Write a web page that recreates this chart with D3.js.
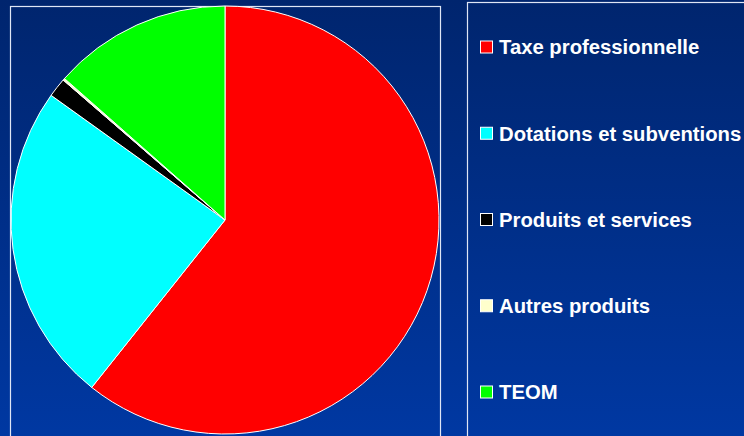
<!DOCTYPE html>
<html><head><meta charset="utf-8">
<script src="https://cdn.jsdelivr.net/npm/d3@7"></script>
<style>html,body{margin:0;padding:0;overflow:hidden;background:#002a80}</style>
</head><body>
<svg id="chart" width="744" height="436"></svg>
<script>
const categories = ["Taxe professionnelle","Dotations et subventions","Produits et services","Autres produits","TEOM"];
const values = [60.7, 24.2, 1.45, 0.15, 13.5];
const colors = ["#FF0000","#00FFFF","#000000","#FFFFCC","#00FF00"];

const svg = d3.select("#chart");
const W = 744, H = 436;
const defs = svg.append("defs");
const grad = defs.append("linearGradient").attr("id","bg").attr("x1",0).attr("y1",0).attr("x2",0).attr("y2",1);
grad.append("stop").attr("offset","0%").attr("stop-color","#00256e");
grad.append("stop").attr("offset","100%").attr("stop-color","#0038a2");
svg.append("rect").attr("width",W).attr("height",H).attr("fill","url(#bg)");

// plot area frame
svg.append("rect").attr("x",10.5).attr("y",6.5).attr("width",430).attr("height",440)
  .attr("fill","none").attr("stroke","#dfe6f5").attr("stroke-width",1.2);
// legend frame
svg.append("rect").attr("x",467.5).attr("y",2.5).attr("width",300).attr("height",450)
  .attr("fill","none").attr("stroke","#dfe6f5").attr("stroke-width",1.2);

const cx = 225, cy = 220, r = 214;
const pie = d3.pie().sort(null).value(d => d)(values);
const arc = d3.arc().innerRadius(0).outerRadius(r);
const g = svg.append("g").attr("transform",`translate(${cx},${cy})`);
g.selectAll("path").data(pie).join("path")
  .attr("d", arc)
  .attr("fill", (d,i) => colors[i])
  .attr("stroke", "#ffffff")
  .attr("stroke-width", 1)
  .attr("stroke-linejoin","round");

const ly = d3.scalePoint().domain(categories).range([47, 392]);
const lg = svg.append("g");
const items = lg.selectAll("g").data(categories).join("g")
  .attr("transform", d => `translate(480,${ly(d)})`);
items.append("rect").attr("x",0.5).attr("y",-6).attr("width",12).attr("height",12)
  .attr("fill",(d,i)=>colors[i]).attr("stroke","#ffffff").attr("stroke-width",1);
items.append("text").attr("x",19).attr("y",0).attr("dy","0.36em")
  .attr("fill","#ffffff").attr("font-family","Liberation Sans, Arial, sans-serif")
  .attr("font-weight","bold").attr("font-size",20.3).text(d=>d);
</script>
</body></html>
